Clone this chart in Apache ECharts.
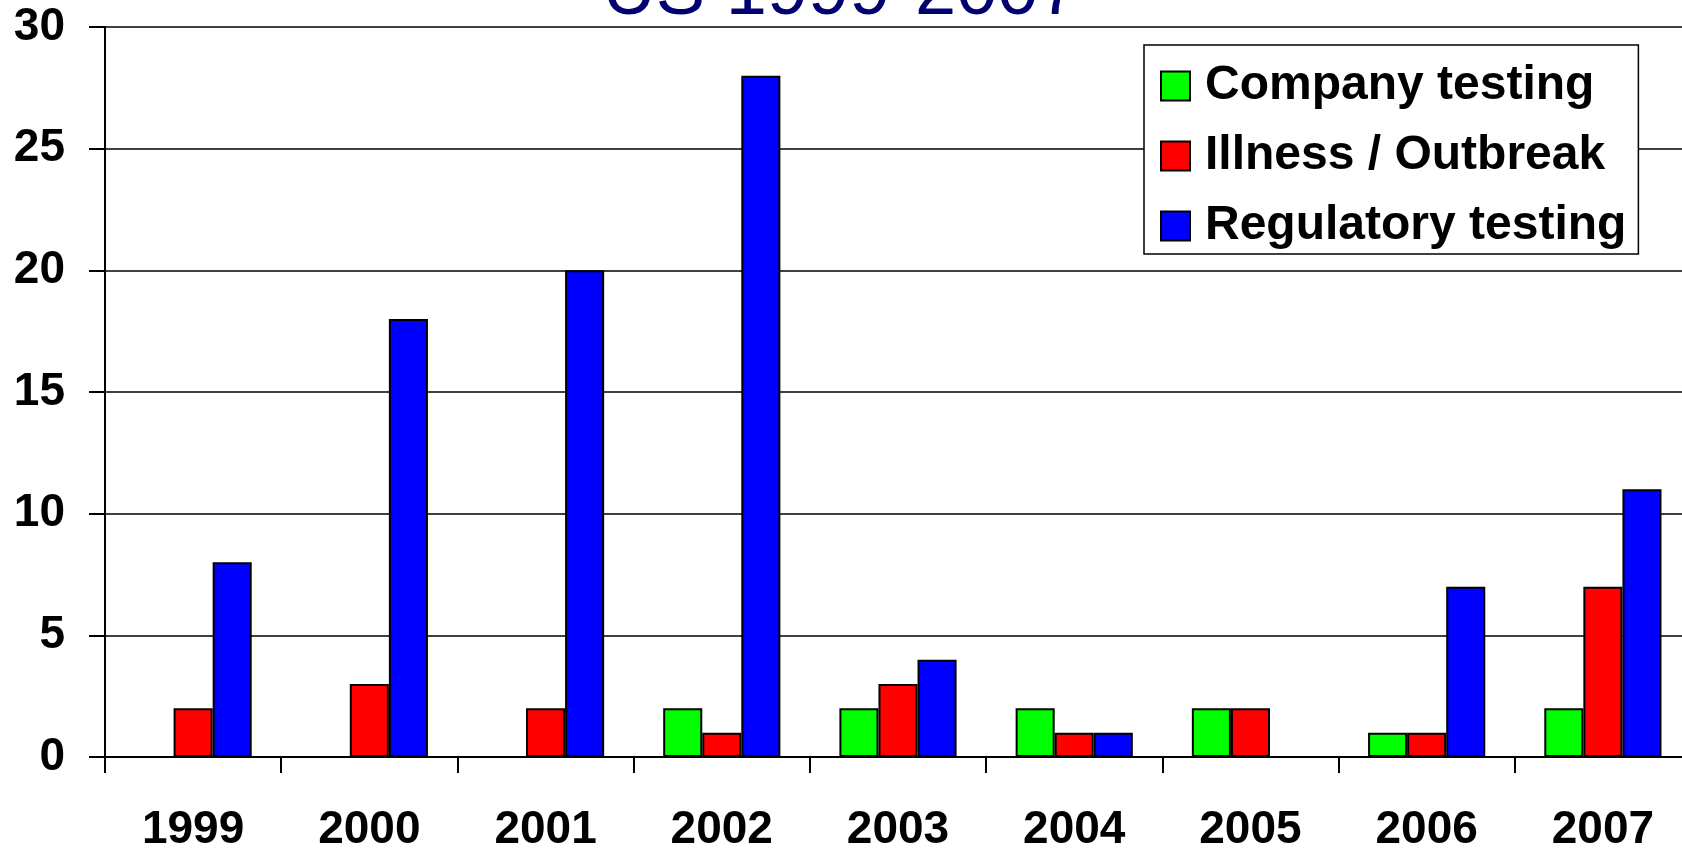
<!DOCTYPE html>
<html>
<head>
<meta charset="utf-8">
<script src="https://cdn.jsdelivr.net/npm/echarts@6/dist/echarts.min.js"></script>
<style>
  html, body { margin: 0; padding: 0; background: #fff; }
  #chart { width: 1682px; height: 852px; }
</style>
</head>
<body>
<div id="chart"></div>
<script>
const years = ['1999', '2000', '2001', '2002', '2003', '2004', '2005', '2006', '2007']
const companyTesting = [0, 0, 0, 2, 2, 2, 2, 1, 2]
const illnessOutbreak = [2, 3, 2, 1, 3, 1, 2, 1, 7]
const regulatoryTesting = [8, 18, 20, 28, 4, 1, 0, 7, 11]

const font = '"Liberation Sans", Arial, sans-serif'
const chart = echarts.init(document.getElementById('chart'))

const barStyle = (color) => ({ color: color, borderColor: '#000', borderWidth: 2 })

chart.setOption({
  backgroundColor: '#fff',
  animation: false,
  title: {
    text: 'US 1999-2007',
    left: 'center',
    top: -48,
    textStyle: { color: '#000070', fontSize: 74, fontWeight: 'normal', fontFamily: font }
  },
  legend: {
    orient: 'vertical',
    left: 1144, top: 45,
    padding: [17, 12, 4, 16],
    itemGap: 22,
    itemWidth: 29, itemHeight: 29,
    icon: 'rect',
    borderColor: '#000', borderWidth: 1.5,
    backgroundColor: '#fff',
    textStyle: { color: '#000', fontSize: 48, fontWeight: 'bold', fontFamily: font, padding: [0, 0, 0, 10] },
    data: ['Company testing', 'Illness / Outbreak', 'Regulatory testing']
  },
  // plot runs a little past the right edge of the picture
  grid: { left: 105, width: 1586, top: 27, bottom: 95, outerBoundsMode: 'none' },
  xAxis: {
    type: 'category',
    data: years,
    axisLine: { lineStyle: { color: '#000', width: 2 } },
    axisTick: { show: true, length: 16, lineStyle: { color: '#000', width: 2 } },
    axisLabel: { color: '#000', fontSize: 46, fontWeight: 'bold', fontFamily: font, margin: 50 }
  },
  yAxis: {
    type: 'value',
    min: 0, max: 30, interval: 5,
    axisLine: { show: true, lineStyle: { color: '#000', width: 2 } },
    axisTick: { show: true, length: 16, lineStyle: { color: '#000', width: 2 } },
    axisLabel: { color: '#000', fontSize: 46, fontWeight: 'bold', fontFamily: font, margin: 40 },
    splitLine: { lineStyle: { color: '#000', width: 1.5 } }
  },
  series: [
    { name: 'Company testing', type: 'bar', data: companyTesting, barGap: 0, barCategoryGap: '33.5%', itemStyle: barStyle('#00ff00') },
    { name: 'Illness / Outbreak', type: 'bar', data: illnessOutbreak, barGap: 0, barCategoryGap: '33.5%', itemStyle: barStyle('#ff0000') },
    { name: 'Regulatory testing', type: 'bar', data: regulatoryTesting, barGap: 0, barCategoryGap: '33.5%', itemStyle: barStyle('#0000ff') }
  ]
})
window.addEventListener('resize', () => chart.resize())
</script>
</body>
</html>
